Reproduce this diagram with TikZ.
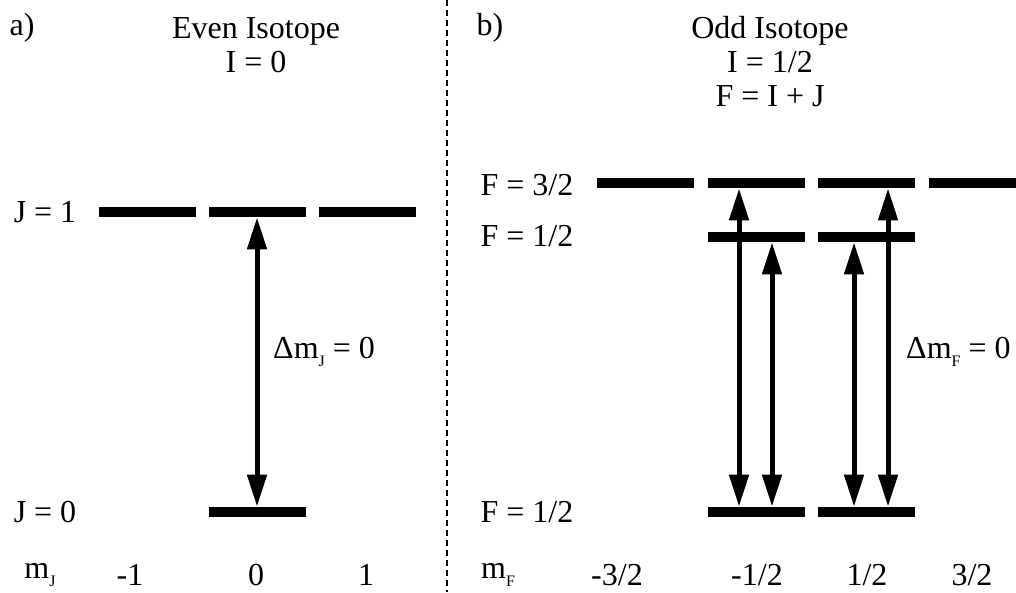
\documentclass[tikz,border=0pt]{standalone}
\usepackage{fontspec}
\setmainfont{Liberation Serif}
\usetikzlibrary{arrows.meta}
\newcommand{\lowsub}[1]{\raisebox{-0.55ex}{\fontsize{16}{16}\selectfont #1}}
\begin{document}
\begin{tikzpicture}[x=1pt,y=-1pt,
  txt/.style={font=\fontsize{32}{34}\selectfont, inner sep=0pt, align=center},
  lvl/.style={rectangle, fill=black, minimum width=97pt, minimum height=10.5pt, inner sep=0pt},
  dbl/.style={line width=5pt, {Triangle[length=32pt,width=19pt]}-{Triangle[length=32pt,width=19pt]}},
  sep/.style={line width=2.8pt, dash pattern=on 5.5pt off 4.5pt}
]
\useasboundingbox (0,0) rectangle (1016,592);
% separator
\coordinate (st) at (447,0);
\coordinate (sb) at (447,592);
\draw[sep] (st) -- (sb);
% left panel headings
\node[txt] (a) at (22,28) {a)};
\node[txt] (even) at (256,45) {Even Isotope\\I = 0};
% left levels
\node[txt] (J1) at (45,212) {J = 1};
\node[lvl] (u1) at (147.5,212) {};
\node[lvl] (u2) at (257,212) {};
\node[lvl] (u3) at (367,212) {};
\node[txt] (J0) at (45,512) {J = 0};
\node[lvl] (g2) at (257,512) {};
\draw[dbl] (g2.north) -- (u2.south);
\node[txt, anchor=west] (dmJ) at (273,352) {Δm\lowsub{J} = 0};
% left m labels
\node[txt] (mJ) at (40,575) {m\lowsub{J}};
\node[txt] (m1) at (130,575) {-1};
\node[txt] (m2) at (256,575) {0};
\node[txt] (m3) at (366,575) {1};
% right panel headings
\node[txt] (b) at (490,28) {b)};
\node[txt] (odd) at (770,62) {Odd Isotope\\I = 1/2\\F = I + J};
% right levels
\node[txt] (F32) at (527,185) {F = 3/2};
\node[lvl] (t1) at (645,183) {};
\node[lvl] (t2) at (756.5,183) {};
\node[lvl] (t3) at (866.5,183) {};
\node[lvl, minimum width=100pt] (t4) at (979,183) {};
\node[txt] (F12u) at (527,236) {F = 1/2};
\node[lvl] (m2u) at (756.5,237) {};
\node[lvl] (m3u) at (866.5,237) {};
\node[txt] (F12l) at (527,512) {F = 1/2};
\node[lvl] (b2) at (756.5,512) {};
\node[lvl] (b3) at (866.5,512) {};
% arrows
\draw[dbl] ([xshift=-17.5pt]b2.north) -- ([xshift=-17.5pt]t2.south);
\draw[dbl] ([xshift=15.5pt]b2.north) -- ([xshift=15.5pt]m2u.south);
\draw[dbl] ([xshift=-12.5pt]b3.north) -- ([xshift=-12.5pt]m3u.south);
\draw[dbl] ([xshift=21.5pt]b3.north) -- ([xshift=21.5pt]t3.south);
\node[txt, anchor=west] (dmF) at (906,352) {Δm\lowsub{F} = 0};
% right m labels
\node[txt] (mF) at (498,575) {m\lowsub{F}};
\node[txt] (n1) at (617,575) {-3/2};
\node[txt] (n2) at (757,575) {-1/2};
\node[txt] (n3) at (867,575) {1/2};
\node[txt] (n4) at (972,575) {3/2};
\end{tikzpicture}
\end{document}
